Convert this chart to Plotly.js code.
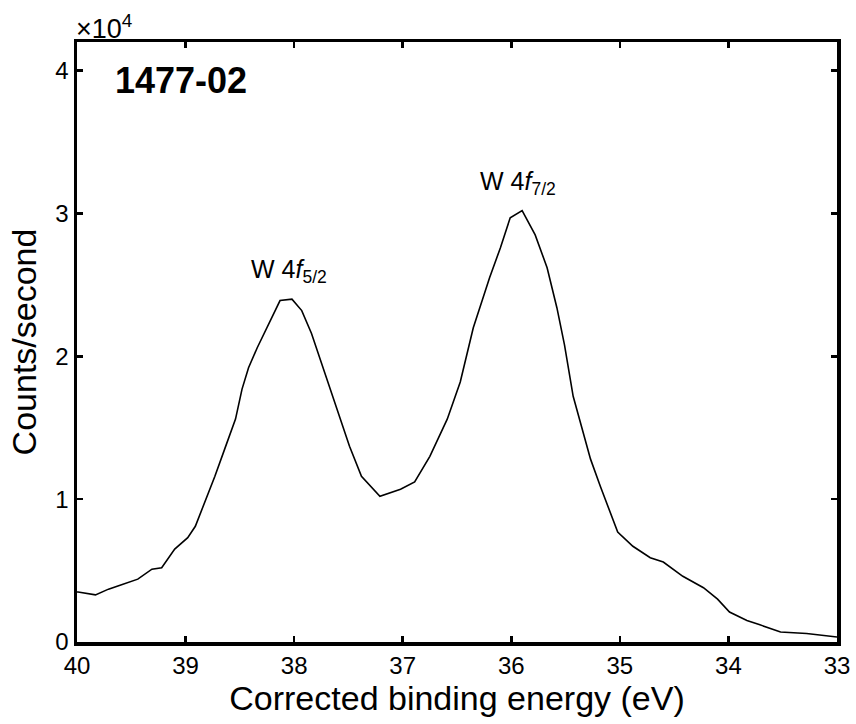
<!DOCTYPE html>
<html>
<head>
<meta charset="utf-8">
<script src="https://cdn.plot.ly/plotly-3.0.1.min.js"></script>
<style>html,body{margin:0;padding:0;background:#fff;}#chart{width:856px;height:724px;}</style>
</head>
<body>
<div id="chart"></div>
<script>
// Binding energy (eV) and intensity (counts/second)
const energy = [40.00, 39.99, 39.83, 39.71, 39.59, 39.44, 39.31, 39.22, 39.10, 38.98,
  38.91, 38.82, 38.73, 38.64, 38.54, 38.48, 38.42, 38.34, 38.24, 38.13,
  38.02, 37.93, 37.84, 37.72, 37.61, 37.49, 37.38, 37.21, 37.02, 36.89,
  36.75, 36.59, 36.47, 36.35, 36.20, 36.10, 36.01, 35.90, 35.78, 35.67,
  35.58, 35.51, 35.43, 35.35, 35.27, 35.18, 35.09, 35.02, 34.88, 34.72,
  34.60, 34.42, 34.23, 34.10, 33.99, 33.83, 33.71, 33.52, 33.28, 33.04,
  33.00];
const counts = [3500, 3500, 3300, 3700, 4000, 4400, 5100, 5200, 6500, 7300,
  8100, 9800, 11600, 13500, 15600, 17700, 19200, 20600, 22200, 23900,
  24000, 23200, 21600, 18900, 16300, 13700, 11600, 10200, 10700, 11200,
  13000, 15600, 18200, 22000, 25500, 27600, 29700, 30200, 28500, 26200,
  23400, 20800, 17200, 14900, 12800, 10900, 9100, 7700, 6700, 5900,
  5600, 4600, 3800, 3000, 2100, 1500, 1200, 700, 600, 400,
  350];
const yTickVals = [0, 10000, 20000, 30000, 40000];
const yTickText = ['0', '1', '2', '3', '4'];
const xTickVals = [40, 39, 38, 37, 36, 35, 34, 33];
const sampleLabel = '1477-02';
const peakLabels = ['W 4<i>f</i><sub>5/2</sub>', 'W 4<i>f</i><sub>7/2</sub>'];
const peakX = [38.05, 35.94];
const peakY = [24000, 30200];

const font = 'Liberation Sans, Arial, Helvetica, sans-serif';

const trace = {
  x: energy, y: counts, type: 'scatter', mode: 'lines',
  line: {color: '#000', width: 1.6}, hoverinfo: 'skip', showlegend: false
};

const layout = {
  width: 856, height: 724,
  margin: {l: 77, r: 19, t: 42, b: 82},
  paper_bgcolor: '#fff', plot_bgcolor: '#fff',
  font: {family: font, color: '#000'},
  xaxis: {
    range: [40, 33], tickvals: xTickVals, ticktext: xTickVals.map(String),
    ticks: 'inside', ticklen: 6, tickwidth: 2.5, tickcolor: '#000',
    showline: true, linewidth: 3.5, linecolor: '#000', mirror: 'allticks',
    showgrid: false, zeroline: false,
    tickfont: {size: 24, family: font},
    title: {text: 'Corrected binding energy (eV)', font: {size: 34, family: font}, standoff: 6}
  },
  yaxis: {
    range: [0, 42000], tickvals: yTickVals, ticktext: yTickText,
    ticks: 'inside', ticklen: 6, tickwidth: 2.5, tickcolor: '#000',
    showline: true, linewidth: 3.5, linecolor: '#000', mirror: 'allticks',
    showgrid: false, zeroline: false,
    tickfont: {size: 24, family: font},
    title: {text: 'Counts/second', font: {size: 34, family: font}, standoff: 9}
  },
  annotations: [
    {xref: 'paper', yref: 'paper', x: 0, y: 1, xanchor: 'left', yanchor: 'bottom',
     text: '×10<sup>4</sup>', showarrow: false, font: {size: 27, family: font}, yshift: -4, xshift: -3},
    {xref: 'paper', yref: 'paper', x: 0.047, y: 0.935, xanchor: 'left', yanchor: 'middle',
     text: '<b>' + sampleLabel + '</b>', showarrow: false, font: {size: 36, family: font}},
    {x: peakX[0], y: peakY[0], xanchor: 'center', yanchor: 'bottom', yshift: 10,
     text: peakLabels[0], showarrow: false, font: {size: 25, family: font}},
    {x: peakX[1], y: peakY[1], xanchor: 'center', yanchor: 'bottom', yshift: 10,
     text: peakLabels[1], showarrow: false, font: {size: 25, family: font}}
  ]
};

Plotly.newPlot('chart', [trace], layout, {displayModeBar: false, staticPlot: true});
</script>
</body>
</html>
